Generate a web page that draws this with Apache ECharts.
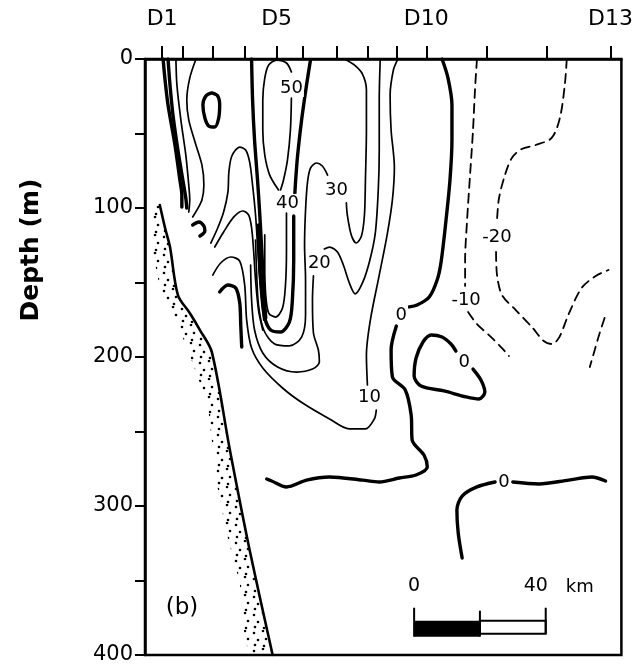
<!DOCTYPE html>
<html><head><meta charset="utf-8">
<script src="https://cdn.jsdelivr.net/npm/echarts@6/dist/echarts.min.js"></script>
<style>html,body{margin:0;padding:0;background:#fff}#c{width:636px;height:667px}</style>
</head><body><div id="c"></div>
<script>
// ---------------- DATA (x = distance in km, y = depth in m) ----------------
const stationNames = ['D1','D2','D3','D4','D5','D6','D7','D8','D9','D10','D11','D12','D13'];
const stationKm = [5.2, 11.5, 20.6, 30.3, 40.0, 47.9, 58.2, 67.6, 76.4, 85.5, 103.9, 122.1, 141.5];
const labeledStations = ['D1','D5','D10','D13'];
const depthLabels = [0, 100, 200, 300, 400];
const sectionWidthKm = 144.8;
const maxDepth = 400;

// sea floor and sediment band
const seafloor = [[4.5,98.0],[6.1,113.4],[7.6,126.2],[10.0,158.4],[13.6,170.5],[16.7,181.9],[20.3,196.6],[25.8,262.4],[31.8,329.5],[38.8,400]];
const sedimentEdge = [[2.1,100.0],[2.4,130.2],[4.5,153.0],[10.6,181.9],[14.5,204.0],[19.1,232.2],[21.8,284.6],[24.8,318.1],[28.8,351.7],[30.3,388.6],[31.8,400]];

// contours near the slope
const slopeA = [[5.5,0],[6.1,14.1],[7.0,30.9],[9.1,57.7],[10.6,81.2],[11.2,91.3],[11.2,99.3]];
const slopeB = [[7.0,0],[7.6,17.4],[8.5,37.6],[10.0,61.1],[11.5,81.2],[12.4,93.3],[12.7,100.0]];
const slopeC = [[9.4,0],[9.7,17.4],[10.9,40.9],[12.4,64.4],[13.3,84.6],[13.6,94.6],[13.3,102.7]];
const slopeD = [[15.5,0],[13.6,12.8],[12.7,27.5],[13.3,40.9],[15.2,55.7],[17.3,71.1],[17.9,84.6],[17.3,94.6],[15.8,101.3],[14.5,106.0]];
const hook = [[14.5,111.4],[16.4,109.4],[17.9,112.1],[18.2,115.4],[16.7,118.8]];
const zeroEddy = [[20.3,22.8],[22.1,24.8],[22.7,30.9],[22.4,39.6],[21.2,45.6],[19.4,45.0],[18.2,39.6],[17.6,30.9],[18.5,24.8],[20.3,22.8]];
const archA = [[20.0,123.5],[22.1,113.4],[23.9,102.7],[25.2,89.3],[25.5,75.8],[26.4,65.1],[28.8,59.1],[30.6,61.1],[31.8,69.1],[32.7,84.6],[33.6,104.7],[34.2,124.8],[34.8,145.0],[35.5,161.7],[36.1,175.2]];
const archB = [[21.2,126.2],[23.9,116.1],[27.0,106.0],[29.7,102.0],[31.5,104.7],[32.4,113.4],[33.0,128.2],[33.6,148.3],[34.5,168.5],[35.8,181.9]];
const archD = [[22.7,156.4],[25.2,151.7],[27.6,153.7],[28.8,163.8],[29.1,178.5],[29.4,193.3]];
const band = [[32.4,0],[32.7,27.5],[33.3,54.4],[34.2,81.2],[34.8,101.3],[35.5,128.2],[36.1,155.0],[36.7,173.8]];

// core contours
const c50a = [[44.5,8.7],[43.0,2.7],[40.0,0.7],[37.6,4.0],[36.4,12.8],[35.8,27.5],[35.8,47.7],[36.4,64.4],[37.9,77.9],[40.6,87.9]];
const c50b = [[44.5,26.2],[44.2,47.7],[43.3,67.8],[42.1,81.2],[41.2,87.9]];
const cInner = [[43.0,103.4],[43.0,128.2],[42.7,151.7],[41.8,167.1],[39.7,173.2],[37.6,170.5],[36.7,158.4],[36.4,138.3],[36.4,118.1]];
const c40a = [[50.3,0.7],[49.1,17.4],[47.6,40.9],[46.4,64.4],[45.8,81.2],[45.5,91.9]];
const c40b = [[45.2,105.4],[45.2,134.9],[44.8,161.7],[43.9,176.5],[41.2,183.2],[38.2,181.9],[36.4,173.8],[35.5,158.4],[34.8,134.9],[34.5,111.4]];
const c30a = [[60.6,0],[63.6,4.0],[66.1,10.1],[67.3,20.8],[67.3,47.7],[67.0,81.2],[66.7,104.7],[65.8,118.8],[64.2,123.5],[62.7,118.1],[61.5,104.7],[61.2,96.6]];
const c30b = [[55.5,77.9],[53.9,71.8],[52.1,69.8],[50.3,73.2],[49.4,82.6],[48.8,101.3],[48.5,124.8],[48.8,148.3],[48.8,171.8],[47.6,186.6],[43.9,192.6],[39.4,191.3],[36.1,181.9],[34.5,165.1],[33.9,141.6],[33.6,121.5]];
const c20a = [[71.5,0],[71.2,27.5],[71.2,61.1],[70.9,87.9],[70.0,116.8],[68.2,136.2],[66.1,150.3],[63.9,157.7],[62.1,150.3],[60.3,138.3],[58.5,129.5],[56.1,126.2],[54.5,127.5]];
const c20b = [[51.2,145.6],[50.9,161.7],[51.2,183.9],[52.7,195.3],[53.0,203.4],[50.9,208.1],[46.1,210.1],[40.3,206.7],[35.8,197.3],[33.3,181.9],[32.4,161.7],[32.1,138.3]];
const c10a = [[20.6,145.0],[23.0,136.9],[26.1,132.9],[28.8,135.6],[30.3,151.7],[30.9,175.2],[32.4,194.0],[35.8,207.4],[41.8,220.8],[47.9,230.9],[56.1,241.6],[62.1,248.3],[67.0,248.3],[69.7,241.6],[70.3,235.6]];
const c10b = [[67.6,218.8],[67.3,198.7],[68.5,175.2],[71.2,145.0],[73.6,118.1],[75.2,94.6],[75.8,72.5],[74.8,47.7],[74.5,24.2],[75.5,7.4],[76.7,0.7]];
const c0a = [[90.3,0],[92.1,12.8],[93.3,30.9],[93.3,54.4],[92.7,81.2],[91.5,108.1],[90.0,136.2],[88.8,148.3],[86.4,159.7],[82.7,165.1],[80.3,166.4]];
const c0b = [[76.4,179.2],[74.8,195.3],[75.2,213.4],[79.1,222.1],[80.9,238.9],[81.2,255.7],[84.8,265.8],[85.8,273.8],[82.4,279.2],[77.3,281.2],[71.2,283.9],[66.1,282.6],[56.1,280.5],[49.1,282.6],[43.0,287.2],[38.5,283.2],[37.0,281.9]];
const c0loop = [[99.7,208.1],[102.1,215.4],[103.3,223.5],[101.5,228.2],[97.6,226.8],[90.9,222.8],[83.9,219.5],[81.8,212.8],[82.4,200.7],[84.5,189.9],[87.0,185.2],[90.3,186.6],[93.0,191.3],[94.5,196.0]];
const c0deepA = [[96.4,334.9],[95.2,318.1],[94.8,302.7],[96.4,293.3],[100.9,287.2],[106.4,283.9]];
const c0deepB = [[111.8,283.9],[119.7,285.2],[128.8,282.6],[135.8,280.5],[140.0,283.2]];
const cm10a = [[100.9,0],[100.3,20.8],[99.7,47.7],[98.8,77.9],[97.9,108.1],[97.3,134.9],[97.3,152.3]];
const cm10b = [[98.2,169.8],[100.9,177.9],[105.2,186.6],[108.5,194.0],[110.6,199.3]];
const cm20a = [[128.2,0],[127.6,17.4],[126.1,39.6],[123.6,53.0],[118.8,57.7],[114.5,60.4],[111.5,66.4],[109.4,77.9],[107.6,93.3],[107.0,108.1]];
const cm20b = [[106.7,129.5],[107.0,145.0],[108.5,158.4],[112.7,168.5],[117.6,179.9],[121.2,189.3],[123.6,191.3],[125.8,187.2],[128.8,171.1],[132.7,153.7],[137.0,145.6],[140.9,141.6]];
const cmRight = [[139.7,173.8],[138.2,183.9],[136.7,195.3],[135.2,206.7]];

// contour labels
const contourLabelText = ['50','40','30','20','10','0','0','-10','-20','0'];
const contourLabelPos = [[44.5,19.5],[43.3,96.6],[58.2,87.9],[53.0,136.9],[68.2,226.8],[77.9,171.8],[97.0,203.4],[97.6,161.7],[107.0,119.5],[109.1,283.9]];

// scale bar (km)
const scaleKm = [0, 20, 40];
const scaleBarStart = [81.8, 377];

// ---------------- CHART ----------------
const INK = '#000';
const FONT = 'DejaVu Sans';
const chart = echarts.init(document.getElementById('c'), null, {renderer: 'canvas'});

const thinC = [slopeC, slopeD, archA, archB, c50a, c50b, cInner, c30a, c30b, c20a, c20b, c10a, c10b];
const thickC = [slopeA, slopeB, hook, zeroEddy, archD, band, c40a, c40b, c0a, c0b, c0loop, c0deepA, c0deepB];
const dashC = [cm10a, cm10b, cm20a, cm20b, cmRight];

function mk(data, width, type) {
  return {type: 'line', data: data, symbol: 'none', showSymbol: false, smooth: 0.3, silent: true,
    animation: false, z: 3,
    lineStyle: {color: INK, width: width, type: type || 'solid', cap: 'round', join: 'round'}};
}

const dotTile = (function () {
  const c = document.createElement('canvas'); c.width = 18; c.height = 18;
  const g = c.getContext('2d'); g.fillStyle = INK;
  [[2,3],[11,1],[6,10],[14,9],[3,15],[12,16]].forEach(function (p) {
    g.beginPath(); g.arc(p[0], p[1], 1.3, 0, Math.PI * 2); g.fill();
  });
  return c;
})();

const sedimentPoly = seafloor.concat(sedimentEdge.slice().reverse());

const series = [];
series.push({
  type: 'custom', data: [[0, 0]], silent: true, animation: false, z: 1,
  renderItem: function (params, api) {
    return {type: 'polygon', shape: {points: sedimentPoly.map(function (p) { return api.coord(p); })},
      style: {fill: {image: dotTile, repeat: 'repeat'}, stroke: null}};
  }
});
series.push(mk(seafloor, 2.6));
thinC.forEach(function (d) { series.push(mk(d, 1.7)); });
thickC.forEach(function (d) { series.push(mk(d, 3.4)); });
dashC.forEach(function (d) { series.push(mk(d, 1.8, [9, 6])); });
series.push({
  type: 'scatter', silent: true, animation: false, z: 6, symbolSize: 0,
  itemStyle: {opacity: 1},
  data: contourLabelPos.map(function (p, i) { return [p[0], p[1], contourLabelText[i]]; }),
  label: {show: true, position: 'inside', formatter: function (p) { return p.value[2]; },
    color: INK, opacity: 1, fontSize: 18, fontFamily: FONT, backgroundColor: '#fff', padding: [0, 1]}
});

const labeledKm = labeledStations.map(function (n) { return stationKm[stationNames.indexOf(n)]; });

chart.setOption({
  animation: false,
  backgroundColor: '#fff',
  grid: {left: 145, top: 59, width: 478, height: 596, show: true, borderColor: INK, borderWidth: 2.5},
  xAxis: {
    type: 'value', position: 'top', min: 0, max: sectionWidthKm,
    axisLine: {show: true, lineStyle: {color: INK, width: 2.5}},
    axisTick: {show: true, customValues: stationKm, length: 13, lineStyle: {color: INK, width: 2}},
    axisLabel: {show: true, customValues: labeledKm, margin: 29, fontSize: 22, color: INK, fontFamily: FONT,
      formatter: function (v) {
        const i = stationKm.findIndex(function (k) { return Math.abs(k - v) < 0.01; });
        return i >= 0 ? stationNames[i] : '';
      }},
    splitLine: {show: false}
  },
  yAxis: {
    type: 'value', inverse: true, min: 0, max: maxDepth, interval: 50,
    axisLine: {show: true, lineStyle: {color: INK, width: 2.5}},
    axisTick: {show: true, length: 10, lineStyle: {color: INK, width: 2}},
    axisLabel: {margin: 12, fontSize: 21, color: INK, fontFamily: FONT, showMaxLabel: true,
      formatter: function (v) { return depthLabels.indexOf(v) >= 0 ? String(v) : ''; }},
    splitLine: {show: false}
  },
  series: series
});

// annotations: scale bar, panel tag, axis title
const p0 = chart.convertToPixel({gridIndex: 0}, [scaleBarStart[0] + scaleKm[0], scaleBarStart[1]]);
const p1 = chart.convertToPixel({gridIndex: 0}, [scaleBarStart[0] + scaleKm[1], scaleBarStart[1]]);
const p2 = chart.convertToPixel({gridIndex: 0}, [scaleBarStart[0] + scaleKm[2], scaleBarStart[1]]);
const barH = 16;
chart.setOption({
  graphic: [
    {type: 'rect', shape: {x: p0[0], y: p0[1], width: p1[0] - p0[0], height: barH}, style: {fill: INK}, z: 10},
    {type: 'rect', shape: {x: p1[0], y: p0[1], width: p2[0] - p1[0], height: barH - 3}, style: {fill: '#fff', stroke: INK, lineWidth: 2}, z: 10},
    {type: 'line', shape: {x1: p0[0], y1: p0[1] - 13, x2: p0[0], y2: p0[1] + barH}, style: {stroke: INK, lineWidth: 2}, z: 10},
    {type: 'line', shape: {x1: p1[0], y1: p0[1] - 10, x2: p1[0], y2: p0[1] + barH}, style: {stroke: INK, lineWidth: 2}, z: 10},
    {type: 'line', shape: {x1: p2[0], y1: p0[1] - 13, x2: p2[0], y2: p0[1] + barH - 3}, style: {stroke: INK, lineWidth: 2}, z: 10},
    {type: 'text', x: p0[0], y: p0[1] - 35, style: {text: String(scaleKm[0]), font: '19px ' + FONT, fill: INK, align: 'center', verticalAlign: 'middle'}, z: 10},
    {type: 'text', x: p2[0] - 10, y: p0[1] - 35, style: {text: String(scaleKm[2]), font: '19px ' + FONT, fill: INK, align: 'center', verticalAlign: 'middle'}, z: 10},
    {type: 'text', x: p2[0] + 20, y: p0[1] - 33, style: {text: 'km', font: '18px ' + FONT, fill: INK, align: 'left', verticalAlign: 'middle'}, z: 10},
    {type: 'text', x: 182, y: 608, style: {text: '(b)', font: '23px ' + FONT, fill: INK, align: 'center', verticalAlign: 'middle'}, z: 10},
    {type: 'text', x: 31, y: 250, rotation: Math.PI / 2, style: {text: 'Depth (m)', font: 'bold 25px ' + FONT, fill: INK, align: 'center', verticalAlign: 'middle'}, z: 10}
  ]
});
</script></body></html>
